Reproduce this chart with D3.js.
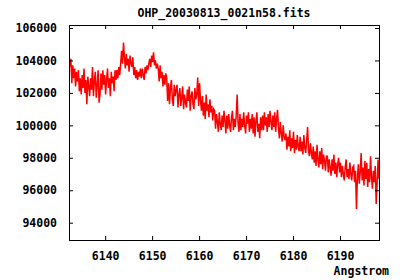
<!DOCTYPE html>
<html>
<head>
<meta charset="utf-8">
<script src="https://cdn.jsdelivr.net/npm/d3@7"></script>
<style>
  body { margin: 0; background: #fff; }
  text { font-family: "DejaVu Sans Mono", monospace; font-weight: bold; font-size: 11.5px; fill: #000; }
</style>
</head>
<body>
<svg width="400" height="280"></svg>
<script>
const svg = d3.select("svg");

const titleText = "OHP_20030813_0021n58.fits";
const xLabel = "Angstrom";

// wavelength grid as in the FITS header (CRVAL1, CDELT1)
const crval1 = 6132.3;
const cdelt1 = 0.2;

const xTicks = [6140, 6150, 6160, 6170, 6180, 6190];
const yTicks = [94000, 96000, 98000, 100000, 102000, 104000, 106000];

const flux = [
  104200, 103600, 104100,
  102600, 103700, 102900, 103500, 102400, 103300, 102700,
  103400, 102100, 102900, 101900, 103100, 102300, 103500, 102000, 102800, 101300, 103000, 102400, 101800, 102900,
  102200, 103600, 101800, 102700, 103300, 101700, 102500, 103400, 101400, 101900, 103200,
  102200, 103400, 102500, 103100, 101900, 102800, 103500, 102300, 102900, 101800, 103300, 102600, 103000, 102100, 103400,
  102800, 103400, 102900, 103600, 103100, 103800,
  104600, 103800, 105100, 104200,
  103500, 104400, 103700, 104100, 103300, 104300, 103800, 103600, 104200,
  103100, 103600, 102900, 103400, 102800, 103300, 103000, 103500,
  102900, 103500, 103100, 102800, 103600, 103200, 103700, 103400,
  103800, 104100, 103600, 104300, 103900, 104500, 103700, 104000, 103500, 103800,
  103500, 102700, 103700, 102900, 103300, 102400, 103100, 102500, 103200,
  102900, 101500, 102600, 101300, 102300, 102800, 101600, 101200, 102500, 101800, 102200,
  102500, 101100, 101900, 102300, 101200, 101700, 102400, 101000, 101900, 101400,
  101100, 102200, 101500, 102400, 100900, 101800, 102100, 101300, 101000, 102300, 101600,
  101900, 102950, 101200, 102600, 101500, 100900,
  101800, 100600, 101400, 100400, 101900, 100900, 101300, 100500, 101600, 100800, 101200, 100300, 101000,
  100900, 99800, 100700, 100200, 99600, 100800, 100100, 99700, 100600, 99900, 100900, 100300, 99500, 100600,
  99800, 100700, 100000, 99600, 100500, 100900, 99700, 100400, 99900, 100600, 101900, 100100, 99600,
  100700, 99700, 100400, 99900, 100800, 100000, 99500, 100600, 100100, 100800, 99600, 100400, 99800, 100700,
  99500, 100500, 99300, 100300, 100800, 99600, 100100, 99200, 100500, 99700,
  100600, 99700, 100800, 100000, 100500, 99600, 100700, 99900, 100900, 100200, 99700, 100600, 99900, 100800, 99600, 100400, 100950, 99800,
  99200, 100200, 99500, 99000, 100000, 99300, 99100,
  99500, 98500, 99300, 98700, 99700, 98400, 99200, 98600, 99600, 98300, 99100, 98500, 99400, 98700, 98400,
  99300, 98400, 99000, 98200, 99400, 98600, 98300, 99100, 99900, 98400, 98100, 98900, 98300, 97900,
  98700, 97700, 98400, 97500, 98800, 97900, 97400, 98400, 97600, 98600, 97300, 98200, 97800, 97200, 98100,
  98100, 97100, 97900, 97400, 96900, 97900, 97200, 98200, 97000, 97700, 96800, 97600, 98000, 97100,
  97700, 96800, 97500, 97000, 96600, 97400, 97900, 96800, 97300, 96700, 97700, 97000, 96600, 97400,
  97500, 96500, 97200, 94850, 96700, 97600, 96400, 97100, 98300, 96600, 97400, 96300, 97800, 96700, 97700,
  96200, 97300, 96500, 98100, 96800, 96100, 97200, 96500, 97500, 95150, 96400, 97900, 96700
];

const data = flux.map((f, i) => ({ wl: crval1 + i * cdelt1, f: f }));

const mLeft = 69, mRight = 379, mTop = 25, mBottom = 240;

const x = d3.scaleLinear().domain([6132.3, 6198.3]).range([mLeft, mRight]);
const y = d3.scaleLinear().domain([92933, 106185]).range([mBottom, mTop]);

svg.append("clipPath").attr("id", "clip")
  .append("rect")
    .attr("x", mLeft).attr("y", mTop)
    .attr("width", mRight - mLeft).attr("height", mBottom - mTop);

// spectrum
svg.append("path")
  .datum(data)
    .attr("clip-path", "url(#clip)")
    .attr("fill", "none")
    .attr("stroke", "#ff0000")
    .attr("stroke-width", 1.5)
    .attr("d", d3.line().x(d => x(d.wl)).y(d => y(d.f)));

// axes, ticks pointing inward, mirrored
const tick = 4;
svg.append("g")
    .attr("transform", `translate(0,${mBottom})`)
    .call(d3.axisBottom(x).tickValues(xTicks).tickSize(-tick).tickPadding(12).tickFormat(d3.format("d")));
svg.append("g")
    .attr("transform", `translate(0,${mTop})`)
    .call(d3.axisTop(x).tickValues(xTicks).tickSize(-tick).tickFormat(""));
svg.append("g")
    .attr("transform", `translate(${mLeft},0)`)
    .call(d3.axisLeft(y).tickValues(yTicks).tickSize(-tick).tickPadding(12).tickFormat(d3.format("d")));
svg.append("g")
    .attr("transform", `translate(${mRight},0)`)
    .call(d3.axisRight(y).tickValues(yTicks).tickSize(-tick).tickFormat(""));

svg.selectAll(".domain").attr("stroke", "#000").attr("stroke-width", 1);
svg.selectAll(".tick line").attr("stroke", "#000");
svg.selectAll(".tick text")
    .style("font-family", "'DejaVu Sans Mono', monospace")
    .style("font-weight", "bold")
    .style("font-size", "11.5px")
    .attr("fill", "#000");

svg.append("text")
    .attr("x", (mLeft + mRight) / 2)
    .attr("y", 17)
    .attr("text-anchor", "middle")
    .text(titleText);

svg.append("text")
    .attr("x", 389)
    .attr("y", 275)
    .attr("text-anchor", "end")
    .text(xLabel);
</script>
</body>
</html>
